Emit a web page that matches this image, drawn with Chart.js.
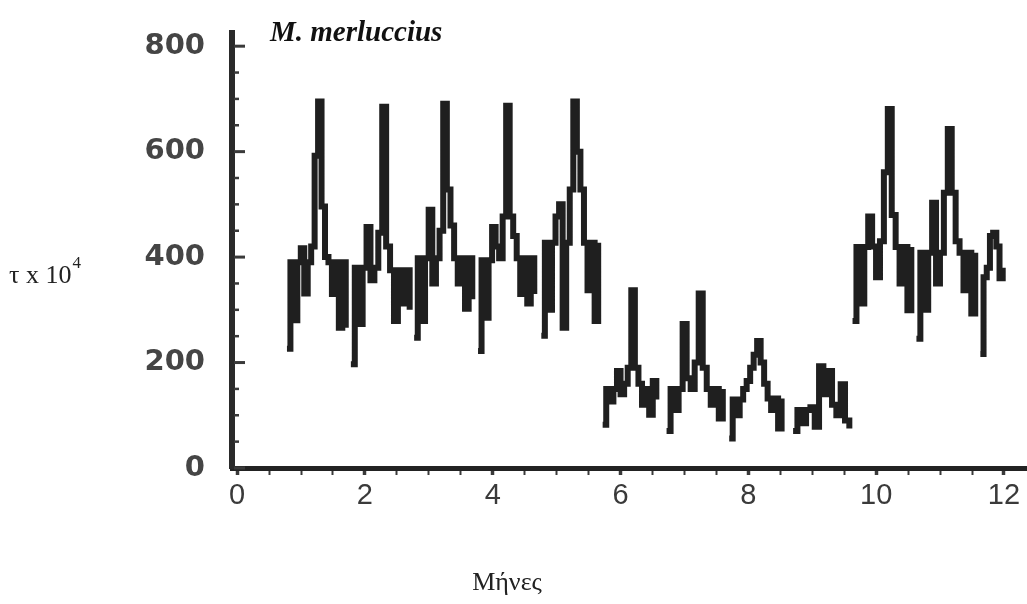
<!DOCTYPE html>
<html>
<head>
<meta charset="utf-8">
<title>M. merluccius</title>
<script src="https://cdn.jsdelivr.net/npm/chart.js@4.4.1/dist/chart.umd.min.js"></script>
<style>
  html, body { margin: 0; padding: 0; background: #ffffff; }
  #wrap { width: 1027px; height: 604px; }
</style>
</head>
<body>
<div id="wrap"><canvas id="c" width="1027" height="604"></canvas></div>
<script>
// Monthly sampling runs of tau (x 10^4): each run covers part of one month.
const monthStart = [0.78, 1.78, 2.77, 3.77, 4.76, 5.72, 6.72, 7.70, 8.70, 9.63, 10.63, 11.63];
const monthEnd   = [1.70, 2.70, 3.68, 4.65, 5.65, 6.56, 7.60, 8.52, 9.58, 10.55, 11.55, 11.98];

const tauRuns = [
  [226, 390, 280, 390, 417, 331, 390, 420, 592, 695, 496, 400, 390, 330, 390, 266, 390, 266],
  [197, 380, 273, 380, 457, 356, 380, 446, 685, 420, 375, 279, 375, 312, 375, 300],
  [247, 398, 279, 398, 490, 350, 398, 450, 691, 528, 460, 398, 350, 398, 302, 398, 320],
  [222, 394, 285, 394, 457, 420, 398, 477, 687, 477, 440, 398, 330, 398, 312, 398, 330],
  [251, 427, 300, 427, 477, 500, 266, 427, 528, 695, 600, 528, 427, 337, 427, 279, 427],
  [82, 150, 126, 150, 184, 140, 160, 190, 337, 190, 160, 120, 150, 101, 165, 130],
  [70, 150, 110, 150, 273, 170, 150, 200, 331, 190, 150, 120, 150, 94, 150],
  [56, 130, 100, 130, 150, 165, 190, 215, 241, 200, 160, 132, 110, 132, 75, 132],
  [70, 110, 85, 110, 115, 78, 193, 140, 184, 120, 100, 159, 90, 75],
  [279, 419, 312, 419, 477, 420, 362, 430, 561, 681, 480, 419, 350, 419, 299, 419],
  [245, 408, 300, 408, 503, 350, 408, 522, 643, 522, 430, 408, 337, 408, 293, 408],
  [216, 362, 380, 440, 446, 420, 360, 380]
];

// Axis tick values
const xTickValues = [0, 0.5, 1, 1.5, 2, 2.5, 3, 3.5, 4, 4.5, 5, 5.5, 6, 6.5, 7, 7.5, 8, 8.5, 9, 9.5, 10, 10.5, 11, 11.5, 12];
const xLabelValues = [0, 2, 4, 6, 8, 10, 12];
const yTickValues = [0, 200, 400, 600, 800];
const yMinorValues = [0, 50, 100, 150, 200, 250, 300, 350, 400, 450, 500, 550, 600, 650, 700, 750, 800];

// Flatten runs into {x, y} points, breaking the line between months
const points = [];
tauRuns.forEach((run, i) => {
  const n = run.length;
  run.forEach((v, j) => {
    points.push({ x: monthStart[i] + (monthEnd[i] - monthStart[i]) * j / (n - 1), y: v });
  });
  points.push({ x: monthEnd[i] + 0.01, y: null });
});

const ink = '#1f1f1f';

// Inward minor/major ticks on the y axis and the free-standing text labels
const decorations = {
  id: 'decorations',
  afterDraw(chart) {
    const { ctx, chartArea, scales } = chart;
    const ys = scales.y;
    ctx.save();
    ctx.strokeStyle = '#3a3a3a';
    yMinorValues.forEach(v => {
      const py = ys.getPixelForValue(v);
      const major = v % 200 === 0;
      ctx.lineWidth = major ? 3 : 2.5;
      ctx.beginPath();
      ctx.moveTo(chartArea.left + 2, py);
      ctx.lineTo(chartArea.left + (major ? 13 : 7), py);
      ctx.stroke();
    });

    // Species name
    ctx.fillStyle = '#111';
    ctx.font = 'italic bold 29px "Liberation Serif", "DejaVu Serif", serif';
    ctx.textAlign = 'left';
    ctx.textBaseline = 'alphabetic';
    ctx.fillText('M. merluccius', 270, 41);

    // Y axis title: tau x 10^4
    ctx.fillStyle = '#222';
    ctx.font = '26px "Liberation Serif", "DejaVu Serif", serif';
    const base = 'τ x 10';
    ctx.fillText(base, 9, 283);
    const w = ctx.measureText(base).width;
    ctx.font = '17px "Liberation Serif", "DejaVu Serif", serif';
    ctx.fillText('4', 9 + w + 1, 268);

    // X axis title
    ctx.font = '26px "Liberation Serif", "DejaVu Serif", serif';
    ctx.textAlign = 'center';
    ctx.fillText('Μήνες', 507, 590);
    ctx.restore();
  }
};

new Chart(document.getElementById('c'), {
  type: 'line',
  data: {
    datasets: [{
      data: points,
      borderColor: ink,
      borderWidth: 6,
      stepped: true,
      pointRadius: 0,
      spanGaps: false,
      tension: 0
    }]
  },
  options: {
    responsive: false,
    devicePixelRatio: 1,
    animation: false,
    layout: { padding: { top: 33, right: 0, bottom: 0, left: 0 } },
    plugins: { legend: { display: false }, tooltip: { enabled: false }, title: { display: false } },
    scales: {
      x: {
        type: 'linear',
        min: -0.08,
        max: 12.36,
        afterBuildTicks: s => { s.ticks = xTickValues.map(v => ({ value: v })); },
        afterFit: s => { s.height = 136; },
        ticks: {
          autoSkip: false,
          maxRotation: 0,
          padding: 4,
          color: '#3a3a3a',
          font: { family: '"Liberation Sans", Arial, sans-serif', size: 29 },
          callback: v => (xLabelValues.includes(v) ? String(v) : '')
        },
        grid: {
          display: true,
          drawOnChartArea: false,
          drawTicks: true,
          tickLength: 7,
          tickColor: '#3a3a3a',
          tickWidth: c => (c.tick && xLabelValues.includes(c.tick.value) ? 3.5 : 2)
        },
        border: { display: true, color: '#222', width: 5 }
      },
      y: {
        min: 0,
        max: 825,
        afterBuildTicks: s => { s.ticks = yTickValues.map(v => ({ value: v })); },
        afterFit: s => { s.width = 232; s.paddingTop = 0; s.paddingBottom = 0; },
        ticks: {
          padding: 27,
          color: '#454545',
          font: { family: '"DejaVu Sans", sans-serif', size: 29, weight: 'bold' }
        },
        grid: { display: false, drawTicks: false },
        border: { display: true, color: '#2a2a2a', width: 6 }
      }
    }
  },
  plugins: [decorations]
});
</script>
</body>
</html>
